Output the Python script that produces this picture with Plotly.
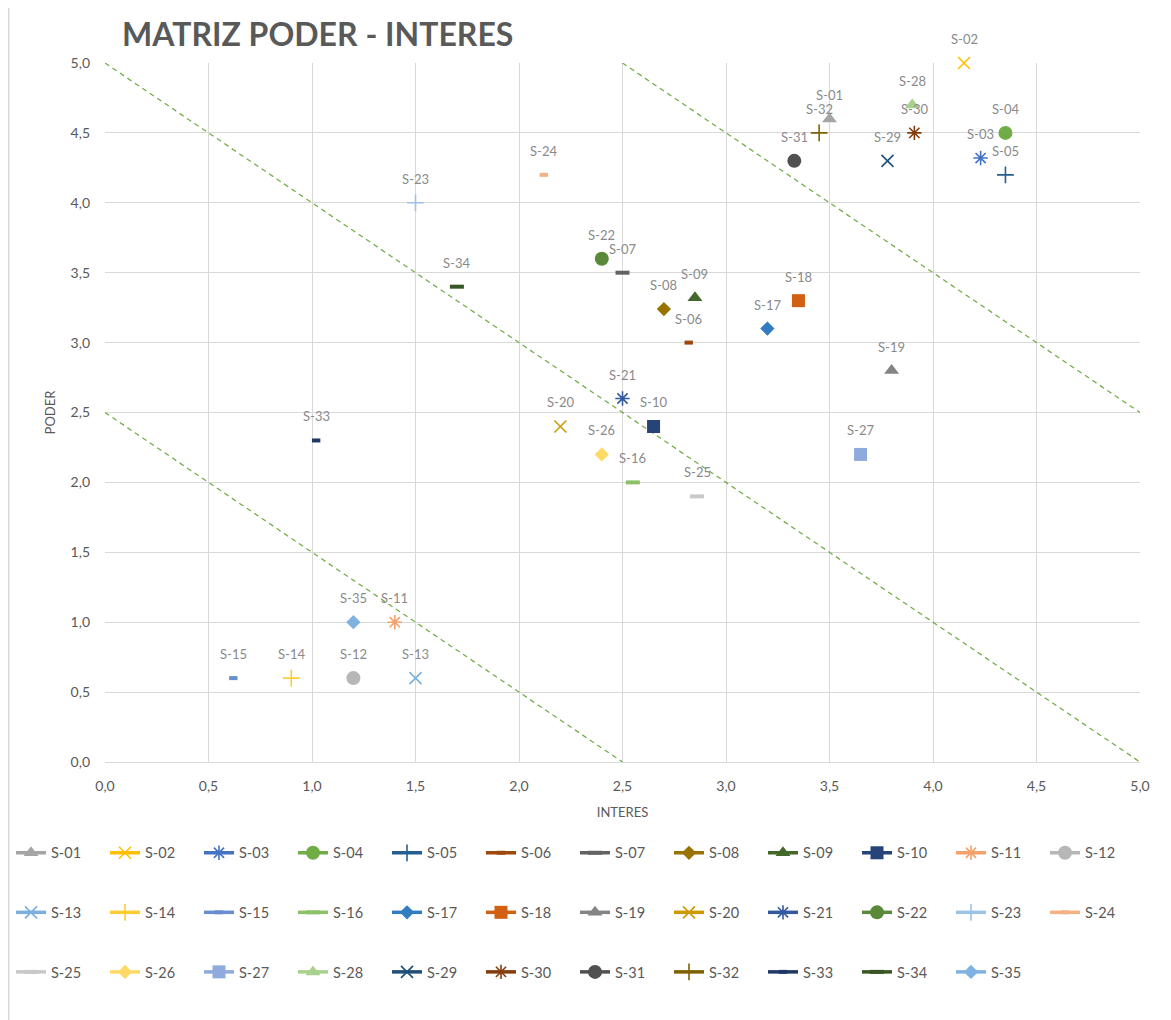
import plotly.graph_objects as go

# ---- data ----
series_names = ["S-01", "S-02", "S-03", "S-04", "S-05", "S-06", "S-07", "S-08", "S-09", "S-10",
                "S-11", "S-12", "S-13", "S-14", "S-15", "S-16", "S-17", "S-18", "S-19", "S-20",
                "S-21", "S-22", "S-23", "S-24", "S-25", "S-26", "S-27", "S-28", "S-29", "S-30",
                "S-31", "S-32", "S-33", "S-34", "S-35"]
interes = [3.50, 4.15, 4.23, 4.35, 4.35, 2.82, 2.50, 2.70, 2.85, 2.65,
           1.40, 1.20, 1.50, 0.90, 0.62, 2.55, 3.20, 3.35, 3.80, 2.20,
           2.50, 2.40, 1.50, 2.12, 2.86, 2.40, 3.65, 3.90, 3.78, 3.91,
           3.33, 3.45, 1.02, 1.70, 1.20]
poder = [4.60, 5.00, 4.32, 4.50, 4.20, 3.00, 3.50, 3.24, 3.32, 2.40,
         1.00, 0.60, 0.60, 0.60, 0.60, 2.00, 3.10, 3.30, 2.80, 2.40,
         2.60, 3.60, 4.00, 4.20, 1.90, 2.20, 2.20, 4.70, 4.30, 4.50,
         4.30, 4.50, 2.30, 3.40, 1.00]

# quadrant divider lines (x + y = const)
div_low_x = [0.0, 2.5]
div_low_y = [2.5, 0.0]
div_mid_x = [0.0, 5.0]
div_mid_y = [5.0, 0.0]
div_high_x = [2.5, 5.0]
div_high_y = [5.0, 2.5]

x_ticks = [0, 0.5, 1, 1.5, 2, 2.5, 3, 3.5, 4, 4.5, 5]
y_ticks = [0, 0.5, 1, 1.5, 2, 2.5, 3, 3.5, 4, 4.5, 5]

# ---- styles ----
colors = ["#A5A5A5", "#FFC000", "#4472C4", "#70AD47", "#255E91", "#9E480E", "#636363", "#997300", "#43682B", "#264478",
          "#F4A16C", "#B7B7B7", "#7CAFDD", "#FFCD33", "#698ED0", "#8CC168", "#327DC2", "#D26012", "#848484", "#CC9A00",
          "#335AA1", "#5A8A39", "#9DC3E6", "#F4B183", "#C9C9C9", "#FFD966", "#8FAADC", "#A9D18E", "#1F4E79", "#843C0C",
          "#505050", "#7F6000", "#203864", "#375623", "#7FB2E0"]
symbols = ["triangle-up", "x-thin", "asterisk", "circle", "cross-thin", "line-ew", "line-ew", "diamond", "triangle-up", "square",
           "asterisk", "circle", "x-thin", "cross-thin", "line-ew", "line-ew", "diamond", "square", "triangle-up", "x-thin",
           "asterisk", "circle", "cross-thin", "line-ew", "line-ew", "diamond", "square", "triangle-up", "x-thin", "asterisk",
           "circle", "cross-thin", "line-ew", "line-ew", "diamond"]
small_dash = {"S-06", "S-15", "S-24", "S-33"}

fig = go.Figure()

for lx, ly in [(div_low_x, div_low_y), (div_mid_x, div_mid_y), (div_high_x, div_high_y)]:
    fig.add_trace(go.Scatter(x=lx, y=ly, mode="lines", showlegend=False, hoverinfo="skip",
                             line=dict(color="#70AD47", width=1.25, dash="5px,4px")))

for i, name in enumerate(series_names):
    sym = symbols[i]
    col = colors[i]
    if sym == "line-ew":
        size = 6 if name in small_dash else 10
        marker = dict(symbol=sym, size=size, color=col, line=dict(color=col, width=4))
    elif sym in ("x-thin", "cross-thin", "asterisk"):
        marker = dict(symbol=sym, size=12, color=col, line=dict(color=col, width=1.6))
    elif sym == "diamond":
        marker = dict(symbol=sym, size=11, color=col, line=dict(width=0))
    elif sym == "square":
        marker = dict(symbol=sym, size=13, color=col, line=dict(width=0))
    elif sym == "triangle-up":
        marker = dict(symbol=sym, size=13, color=col, line=dict(width=0))
    else:
        marker = dict(symbol=sym, size=14, color=col, line=dict(width=0))
    fig.add_trace(go.Scatter(
        x=[interes[i]], y=[poder[i]], mode="lines+markers",
        name=" <br>" + name + "<br> ",
        marker=marker, line=dict(color=col, width=3.5),
        cliponaxis=False,
    ))
    fig.add_annotation(x=interes[i], y=poder[i], text=name, showarrow=False,
                       yshift=24, font=dict(family="Lato", size=13, color="#8A8A8A"))

# page body adds an 8px offset; figure is sized so the plot lands where the reference has it
W, H = 1163, 1012
ml, mr, mt, mb = 97, 31, 55, 258
pw, ph = W - ml - mr, H - mt - mb

# chart border (left edge)
fig.add_shape(type="line", xref="paper", yref="paper",
              x0=(0.75 - ml) / pw, x1=(0.75 - ml) / pw, y0=-(H - mt - ph) / ph - 0.01, y1=1 + mt / ph + 0.01,
              line=dict(color="#D9D9D9", width=1.5))

fig.update_layout(
    width=W, height=H,
    margin=dict(l=ml, r=mr, t=mt, b=mb, autoexpand=False),
    paper_bgcolor="white", plot_bgcolor="white",
    separators=",.",
    title=dict(text="<b>MATRIZ PODER - INTERES</b>", x=114 / W, xanchor="left",
               y=1 - 27 / H, yanchor="middle",
               font=dict(family="Lato", size=32, color="#595959")),
    xaxis=dict(range=[0, 5], tickvals=x_ticks, tickformat=".1f", automargin=False,
               showgrid=True, gridcolor="#D9D9D9", gridwidth=1,
               zeroline=False, showline=True, linecolor="#D9D9D9", mirror=False,
               ticks="", ticklabelstandoff=11, tickfont=dict(family="Lato", size=14, color="#595959"),
               title=dict(text="INTERES", font=dict(family="Lato", size=13, color="#595959"), standoff=15)),
    yaxis=dict(range=[0, 5], tickvals=y_ticks, tickformat=".1f", automargin=False,
               showgrid=True, gridcolor="#D9D9D9", gridwidth=1,
               zeroline=False, showline=False,
               ticks="", ticklabelstandoff=14, tickfont=dict(family="Lato", size=14, color="#595959"),
               title=dict(text="PODER", font=dict(family="Lato", size=13, color="#595959"), standoff=12)),
    legend=dict(orientation="h", x=(3 - ml) / pw, xanchor="left",
                y=-(810 - mt - ph) / ph, yanchor="top",
                font=dict(family="Lato", size=14.5, color="#595959"),
                entrywidth=49, itemwidth=30, traceorder="normal",
                bgcolor="rgba(0,0,0,0)"),
    showlegend=True,
)

fig.write_html("out.html")
